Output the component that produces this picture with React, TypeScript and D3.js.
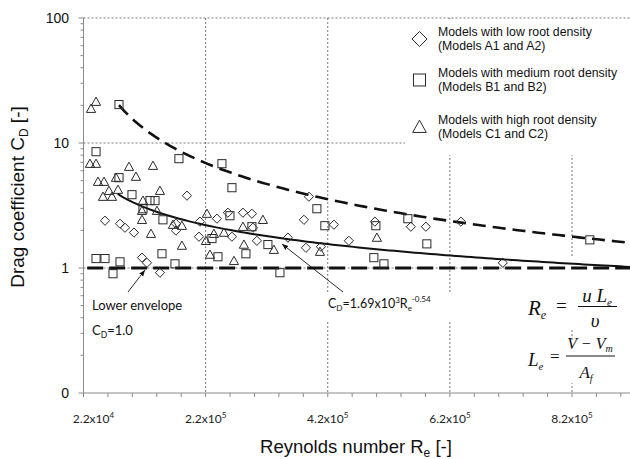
import React from "react";
import * as d3 from "d3";

// ---------- data ----------
const lowRe = [189400, 55200, 79800, 87900, 102700, 171400, 171400, 210700, 238500, 256500, 281100, 295800, 297500, 209100, 263100, 304000, 354800, 381000, 389100, 430100, 454600, 384300, 115800, 123900, 145200, 497200, 556100, 580700, 638000, 706700, 408800];
const lowCd = [3.79, 2.39, 2.26, 2.10, 1.92, 2.26, 1.99, 2.35, 2.48, 2.77, 2.77, 2.72, 2.10, 1.78, 1.78, 1.65, 1.75, 2.43, 3.72, 2.22, 1.65, 1.45, 1.21, 1.10, 0.917, 2.35, 2.14, 2.14, 2.35, 1.10, 1.48];

const medRe = [78100, 40500, 176300, 246700, 263100, 78100, 99400, 128900, 137100, 117400, 150100, 259800, 295800, 230400, 322000, 286000, 240200, 148500, 169800, 79800, 40500, 55200, 68300, 341700, 415300, 402200, 498800, 551200, 582300, 495500, 512000, 849200];
const medCd = [20.3, 8.52, 7.49, 6.83, 4.39, 5.28, 3.86, 3.46, 3.46, 2.98, 2.43, 2.62, 2.14, 1.72, 1.54, 1.30, 1.23, 1.30, 1.08, 1.12, 1.19, 1.19, 0.90, 0.917, 2.18, 2.98, 2.18, 2.48, 1.56, 1.21, 1.08, 1.68];

const highRe = [32300, 40500, 30600, 40500, 94500, 133800, 43700, 53600, 73200, 105900, 61700, 76500, 145200, 51900, 66700, 117400, 115800, 140300, 115800, 130500, 166500, 181200, 181200, 222200, 233600, 220500, 227100, 250000, 266400, 281100, 282700, 313800, 331800, 407200, 500500];
const highCd = [18.8, 21.4, 6.83, 6.83, 6.46, 6.58, 4.90, 4.90, 5.28, 5.38, 4.15, 4.23, 4.15, 3.72, 3.72, 3.46, 2.87, 2.87, 2.43, 1.88, 2.22, 2.18, 1.51, 2.72, 1.88, 1.65, 1.28, 1.92, 1.14, 2.14, 1.54, 2.43, 1.40, 1.35, 1.75];

// fitted curves shown in the chart
const fitA = 1690, fitB = -0.54, fitStart = 76000;
const upperA = 2.2e6, upperB = -1.03, upperStart = 78100;
const lowerCd = 1.0, lowerStart = 26000;

const xDomain = [20000, 915000];
const yDomain = [0.1, 100];
const xLabelTicks = [20000, 220000, 420000, 620000, 820000];
const xLabelMain = ["2.2x10", "2.2x10", "4.2x10", "6.2x10", "8.2x10"];
const xLabelExp = ["4", "5", "5", "5", "5"];
const yLabelTicks = [0.1, 1, 10, 100];
const yLabels = ["0", "1", "10", "100"];

const legendItems = [
  { shape: "diamond", l1: "Models with low root density", l2: "(Models A1 and A2)" },
  { shape: "square", l1: "Models with medium root density", l2: "(Models B1 and B2)" },
  { shape: "triangle", l1: "Models with high root density", l2: "(Models C1 and C2)" },
];

const W = 630, H = 459;
const L = 83.5, R = 630, T = 18, B = 393;

function Marker({ shape, cx, cy, s }: { shape: string; cx: number; cy: number; s: number }) {
  const st = { fill: "none", stroke: "#2a2a2a", strokeWidth: 1 };
  if (shape === "diamond") {
    return <polygon points={`${cx},${cy - s} ${cx + s},${cy} ${cx},${cy + s} ${cx - s},${cy}`} {...st} />;
  }
  if (shape === "square") {
    const h = s * 0.88;
    return <rect x={cx - h} y={cy - h} width={2 * h} height={2 * h} {...st} />;
  }
  const h = s;
  return <polygon points={`${cx},${cy - h} ${cx + h},${cy + h * 0.8} ${cx - h},${cy + h * 0.8}`} {...st} />;
}

export default function App() {
  const x = d3.scaleLinear().domain(xDomain).range([L, R]);
  const y = d3.scaleLog().domain(yDomain).range([B, T]);

  const line = d3.line<[number, number]>().x((d) => x(d[0])).y((d) => y(d[1]));
  const sample = (start: number) => d3.range(0, 101).map((i) => start + ((xDomain[1] - start) * i) / 100);
  const fitPts = sample(fitStart).map((r) => [r, fitA * Math.pow(r, fitB)] as [number, number]);
  const upPts = sample(upperStart).map((r) => [r, upperA * Math.pow(r, upperB)] as [number, number]);
  const lowPts: [number, number][] = [[lowerStart, lowerCd], [xDomain[1], lowerCd]];

  const minorX = d3.range(20000, xDomain[1], 40000);
  const minorY: number[] = [];
  [0.1, 1, 10].forEach((k) => { for (let m = 2; m <= 9; m++) minorY.push(m * k); });

  const grid = { stroke: "#555", strokeWidth: 0.8, strokeDasharray: "2,2", fill: "none" };
  const axisC = "#8a8a8a";
  const sans = "'Liberation Sans', Arial, sans-serif";
  const lato = "Lato, 'Open Sans', sans-serif";
  const serif = "'Liberation Serif', 'Times New Roman', serif";

  return (
    <svg width={W} height={H} style={{ position: "absolute", left: 0, top: 0, background: "#fff" }}>
      <defs>
        <marker id="ah" viewBox="0 0 10 10" refX="10" refY="5" markerWidth="7" markerHeight="7" orient="auto">
          <path d="M0,1 L10,5 L0,9 z" fill="#111" />
        </marker>
      </defs>
      <rect x={0} y={0} width={W} height={H} fill="#fff" />

      {/* gridlines */}
      {[100, 10, 1].map((v) => (
        <line key={"hg" + v} x1={L} x2={R} y1={y(v)} y2={y(v)} {...grid} />
      ))}
      {xLabelTicks.slice(1).map((v) => (
        <line key={"vg" + v} x1={x(v)} x2={x(v)} y1={T} y2={B} {...grid} />
      ))}

      {/* white boxes of text objects */}
      <rect x={405} y={19} width={225} height={136} fill="#fff" />
      <rect x={325} y={292} width={131} height={30} fill="#fff" />
      <rect x={521} y={258} width={108} height={72} fill="#fff" />
      <rect x={524} y={340} width={100} height={43} fill="#fff" />

      {/* curves */}
      <path d={line(lowPts) || ""} fill="none" stroke="#111" strokeWidth={3} strokeDasharray="16,6" />
      <path d={line(upPts) || ""} fill="none" stroke="#111" strokeWidth={2.6} strokeDasharray="13,7" />
      <path d={line(fitPts) || ""} fill="none" stroke="#111" strokeWidth={2} />

      {/* points */}
      {lowRe.map((r, i) => <Marker key={"l" + i} shape="diamond" cx={x(r)} cy={y(lowCd[i])} s={4.6} />)}
      {medRe.map((r, i) => <Marker key={"m" + i} shape="square" cx={x(r)} cy={y(medCd[i])} s={4.6} />)}
      {highRe.map((r, i) => <Marker key={"h" + i} shape="triangle" cx={x(r)} cy={y(highCd[i])} s={4.6} />)}

      {/* axes */}
      <line x1={L} x2={L} y1={T} y2={B} stroke={axisC} strokeWidth={1} />
      <line x1={L} x2={R} y1={B} y2={B} stroke={axisC} strokeWidth={1} />
      {minorY.map((v) => <line key={"my" + v} x1={L - 3} x2={L} y1={y(v)} y2={y(v)} stroke={axisC} />)}
      {yLabelTicks.map((v) => <line key={"My" + v} x1={L - 5} x2={L} y1={y(v)} y2={y(v)} stroke={axisC} />)}
      {minorX.map((v) => <line key={"mx" + v} x1={x(v)} x2={x(v)} y1={B} y2={B + 4} stroke={axisC} />)}

      {yLabelTicks.map((v, i) => (
        <text key={"yl" + v} x={69} y={y(v) + 5} textAnchor="end" fontFamily={sans} fontSize={14} fill="#111">{yLabels[i]}</text>
      ))}
      {xLabelTicks.map((v, i) => (
        <text key={"xl" + v} x={x(v) + (i === 0 ? 10 : 0)} y={423} textAnchor="middle" fontFamily={lato} fontSize={12} fill="#222">
          <tspan>{xLabelMain[i]}</tspan>
          <tspan dy={-5} fontSize={8}>{xLabelExp[i]}</tspan>
        </text>
      ))}

      {/* axis titles */}
      <text x={356} y={453} textAnchor="middle" fontFamily={sans} fontSize={18.5} fill="#111">
        <tspan>Reynolds number R</tspan>
        <tspan dy={4} fontSize={12}>e</tspan>
        <tspan dy={-4}> [-]</tspan>
      </text>
      <text transform="translate(24,197) rotate(-90)" textAnchor="middle" fontFamily={sans} fontSize={19} fill="#111">
        <tspan>Drag coefficient C</tspan>
        <tspan dy={4} fontSize={12}>D</tspan>
        <tspan dy={-4}> [-]</tspan>
      </text>

      {/* legend */}
      {legendItems.map((it, i) => {
        const cy = [39, 80, 127][i];
        const ty = [36, 77, 124][i];
        return (
          <g key={"lg" + i}>
            <Marker shape={it.shape} cx={419.5} cy={cy} s={it.shape === "diamond" ? 7.5 : 6.8} />
            <text x={438} y={ty} fontFamily={sans} fontSize={12.3} fill="#111">{it.l1}</text>
            <text x={438} y={ty + 14} fontFamily={sans} fontSize={12.3} fill="#111">{it.l2}</text>
          </g>
        );
      })}

      {/* annotations */}
      <line x1={128} y1={292} x2={145} y2={270} stroke="#111" strokeWidth={0.9} markerEnd="url(#ah)" />
      <text x={92} y={309.5} fontFamily={lato} fontSize={13} fill="#111">Lower envelope</text>
      <text x={92} y={335} fontFamily={lato} fontSize={13} fill="#111">
        <tspan>C</tspan>
        <tspan dy={3} fontSize={8.5}>D</tspan>
        <tspan dy={-3}>=1.0</tspan>
      </text>

      <line x1={343} y1={292} x2={282} y2={244} stroke="#111" strokeWidth={0.9} markerEnd="url(#ah)" />
      <text x={328} y={308} fontFamily={lato} fontSize={12.5} fill="#111">
        <tspan>C</tspan>
        <tspan dy={3} fontSize={8}>D</tspan>
        <tspan dy={-3}>=1.69x10</tspan>
        <tspan dy={-5} fontSize={8}>3</tspan>
        <tspan dy={5}>R</tspan>
        <tspan dy={3} fontSize={8}>e</tspan>
        <tspan dy={-9} fontSize={8}>-0.54</tspan>
      </text>

      {/* equations */}
      <g fontFamily={serif} fontStyle="italic" fill="#111">
        <text x={528} y={315} fontSize={21}>R<tspan dy={4} fontSize={12}>e</tspan></text>
        <text x={556} y={312} fontSize={19} fontStyle="normal">=</text>
        <text x={597} y={302} fontSize={19} textAnchor="middle">u L<tspan dy={4} fontSize={11}>e</tspan></text>
        <line x1={578} x2={617} y1={306.5} y2={306.5} stroke="#111" strokeWidth={1} />
        <text x={595} y={327} fontSize={19} textAnchor="middle">υ</text>

        <text x={528} y={366} fontSize={19}>L<tspan dy={4} fontSize={11}>e</tspan></text>
        <text x={550} y={362} fontSize={17} fontStyle="normal">=</text>
        <text x={590} y={349} fontSize={16} textAnchor="middle">V − V<tspan dy={3} fontSize={10}>m</tspan></text>
        <line x1={566} x2={615} y1={356} y2={356} stroke="#111" strokeWidth={1} />
        <text x={586} y={378} fontSize={17} textAnchor="middle">A<tspan dy={4} fontSize={10}>f</tspan></text>
      </g>
    </svg>
  );
}
